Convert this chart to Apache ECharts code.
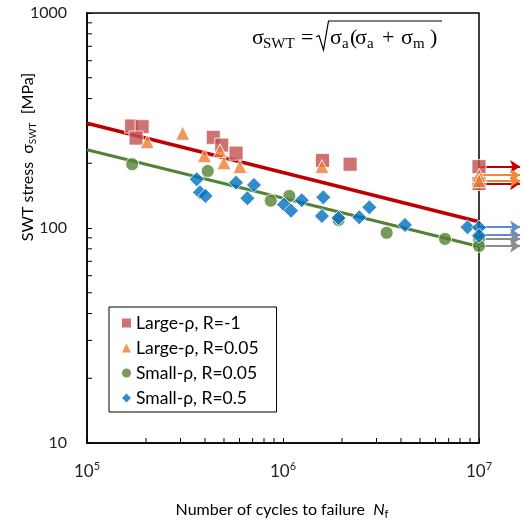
<!DOCTYPE html>
<html><head><meta charset="utf-8">
<script src="https://cdn.jsdelivr.net/npm/echarts/dist/echarts.min.js"></script>
<style>html,body{margin:0;padding:0;background:#fff}#c{width:524px;height:524px}</style>
</head><body><div id="c"></div>
<script>
// ---- data (cycles to failure, SWT stress MPa) ----
const largeRm1 = [[1.69e5,298],[1.91e5,296],[1.78e5,262],[4.41e5,264],[4.87e5,243],[5.76e5,223],[1.59e6,206],[2.2e6,198],[1e7,193],[1e7,161]];
const largeR005 = [[2.03e5,252],[3.08e5,276],[3.97e5,217],[4.77e5,229],[5.0e5,201],[6.03e5,193],[1.58e6,193],[1e7,176],[1e7,166]];
const smallR005 = [[1.70e5,198],[4.13e5,184],[8.66e5,134],[1.077e6,141],[1.92e6,109],[3.38e6,95],[6.71e6,89],[1e7,88.9],[1e7,82.5]];
const smallR05 = [[3.63e5,168.5],[3.77e5,146.6],[4.02e5,141],[5.76e5,162.5],[7.11e5,158.5],[6.58e5,137.5],[1.012e6,128.6],[1.099e6,120.4],[1.246e6,134.6],[1.605e6,138.9],[1.58e6,113.7],[1.92e6,111.3],[2.45e6,112.2],[2.756e6,124.8],[4.19e6,103.3],[8.74e6,100.8],[1e7,100.5],[1e7,92]];
const fitLarge = [[1e5,307],[1e7,107]];
const fitSmall = [[1e5,231],[1e7,82]];
// run-outs (stress levels of arrows starting at 1e7)
const runoutStart = 1e7;
const runoutEnd = 1.62e7;
const runoutLargeRm1 = [193, 161];
const runoutLargeR005 = [176, 166];
const runoutSmallR05 = [101, 92.8];
const runoutSmallR005 = [88.9, 82.5];
// axis ticks
const xMinorTicks = [2e5,3e5,4e5,5e5,6e5,7e5,8e5,9e5,2e6,3e6,4e6,5e6,6e6,7e6,8e6,9e6];
const yMinorTicks = [20,30,40,50,60,70,80,90,200,300,400,500,600,700,800,900];
const seriesNames = ['Large-ρ, R=-1','Large-ρ, R=0.05','Small-ρ, R=0.05','Small-ρ, R=0.5'];

const FONT = 'Lato';
const chart = echarts.init(document.getElementById('c'), null, {renderer:'canvas'});

function arrows(levels, color){
  return {
    type:'lines', coordinateSystem:'cartesian2d', clip:false, silent:true, z:3,
    symbol:['none','arrow'], symbolSize:10,
    lineStyle:{color:color, width:2, opacity:1},
    data: levels.map(s => ({coords:[[runoutStart,s],[runoutEnd,s]]}))
  };
}
const mk = {borderColor:'#fff', borderWidth:1};

chart.setOption({
  animation:false,
  grid:{left:87, right:45, top:13, bottom:81, show:true, borderColor:'#000', borderWidth:1.5, containLabel:false},
  xAxis:{type:'log', logBase:10, min:1e5, max:1e7,
    axisLine:{lineStyle:{color:'#000', width:1.5}},
    axisTick:{inside:true, length:5, lineStyle:{color:'#000'}},
    splitLine:{show:false},
    axisLabel:{margin:18, formatter: v => '{b|10}{s|' + Math.round(Math.log10(v)) + '}',
      rich:{b:{fontSize:17, fontFamily:FONT, color:'#222', lineHeight:22},
            s:{fontSize:11, fontFamily:FONT, color:'#222', lineHeight:12, verticalAlign:'top'}}}
  },
  yAxis:{type:'log', logBase:10, min:10, max:1000,
    axisLine:{lineStyle:{color:'#000', width:1.5}},
    axisTick:{inside:true, length:5, lineStyle:{color:'#000'}},
    splitLine:{show:false},
    axisLabel:{margin:20, fontSize:16, fontFamily:FONT, color:'#222', formatter: v => String(Math.round(v))}
  },
  legend:{left:109, top:307, orient:'vertical', itemWidth:9, itemHeight:9, itemGap:7,
    padding:[7,18,5,13], borderColor:'#000', borderWidth:1, backgroundColor:'#fff',
    textStyle:{fontSize:17.5, fontFamily:FONT, color:'#000'},
    itemStyle:{borderWidth:0},
    data:seriesNames},
  series:[
    {type:'line', data:fitLarge, symbol:'none', lineStyle:{color:'#C00000', width:3.5}, z:1, silent:true},
    {type:'line', data:fitSmall, symbol:'none', lineStyle:{color:'#548235', width:3}, z:1, silent:true},
    arrows(runoutLargeRm1, '#C00000'),
    arrows(runoutLargeR005, '#F0883A'),
    arrows(runoutSmallR05, '#5B8FCC'),
    arrows(runoutSmallR005, '#8C8C8C'),
    {name:seriesNames[0], type:'scatter', data:largeRm1, symbol:'rect', symbolSize:14, itemStyle:Object.assign({color:'#C0504D'},mk), z:4},
    {name:seriesNames[1], type:'scatter', data:largeR005, symbol:'triangle', symbolSize:14, itemStyle:Object.assign({color:'#ED7D31'},mk), z:5},
    {name:seriesNames[2], type:'scatter', data:smallR005, symbol:'circle', symbolSize:13, itemStyle:Object.assign({color:'#548235'},mk), z:6},
    {name:seriesNames[3], type:'scatter', data:smallR05, symbol:'diamond', symbolSize:15, itemStyle:Object.assign({color:'#0070C0'},mk), z:7}
  ]
});

// minor ticks and annotations
const g = [];
const y0 = chart.convertToPixel({gridIndex:0},[1e5,10]);
xMinorTicks.forEach(v => {
  const p = chart.convertToPixel({gridIndex:0},[v,10]);
  g.push({type:'line', shape:{x1:p[0], y1:y0[1], x2:p[0], y2:y0[1]-5}, style:{stroke:'#000', lineWidth:1}, silent:true});
});
yMinorTicks.forEach(v => {
  const p = chart.convertToPixel({gridIndex:0},[1e5,v]);
  g.push({type:'line', shape:{x1:y0[0], y1:p[1], x2:y0[0]+5, y2:p[1]}, style:{stroke:'#000', lineWidth:1}, silent:true});
});
// formula  σ_SWT = √(σ_a(σ_a + σ_m))
const SERIF = 'Liberation Serif';
const formulaParts = [
  ['σ',252,false],['SWT',263,true],['=',301,false],
  ['σ',330,false],['a',342,true],['(',350,false],['σ',355,false],['a',367,true],
  ['+',382,false],['σ',401,false],['m',413,true],[')',430,false]
];
formulaParts.forEach(([t,x,sub]) => {
  g.push({type:'text', x:x, y:sub?44:38, z:10, silent:true, style:{
    text:t, fontSize:sub?15:22, fontFamily:SERIF, fill:'#000', align:'left', verticalAlign:'middle'}});
});
g.push({type:'polyline', z:10, silent:true, shape:{points:[[316,37],[319,35.5],[323.5,50],[328.5,21],[442,21]]},
  style:{stroke:'#000', lineWidth:1.2, fill:null}});
// axis titles
g.push({type:'text', x:28, y:157, rotation:Math.PI/2, z:10, style:{
  text:'{t|SWT stress  σ}{s|SWT}{t|  [MPa]}', align:'center', verticalAlign:'middle',
  rich:{t:{fontSize:16, fontFamily:FONT, color:'#222', lineHeight:20},
        s:{fontSize:10, fontFamily:FONT, color:'#222', lineHeight:12, verticalAlign:'bottom'}}}});
g.push({type:'text', x:282, y:510, z:10, style:{
  text:'{t|Number of cycles to failure  }{i|N}{s|f}', align:'center', verticalAlign:'middle',
  rich:{t:{fontSize:16, fontFamily:FONT, color:'#222', lineHeight:20},
        i:{fontSize:16, fontFamily:FONT, fontStyle:'italic', color:'#222', lineHeight:20},
        s:{fontSize:11, fontFamily:FONT, color:'#222', lineHeight:12, verticalAlign:'bottom'}}}});
chart.setOption({graphic:g});
</script></body></html>
